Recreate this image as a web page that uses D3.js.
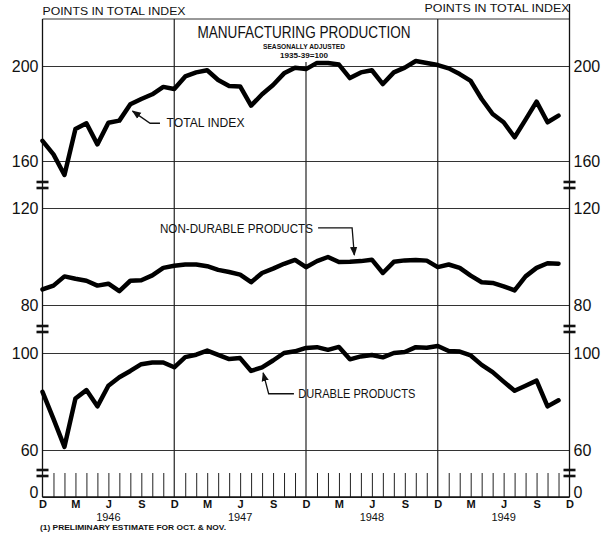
<!DOCTYPE html>
<html><head><meta charset="utf-8">
<script src="https://cdn.jsdelivr.net/npm/d3@7"></script>
<style>
body{margin:0;background:#fff}
text{font-family:"Liberation Sans",Arial,sans-serif;fill:#111}
</style>
</head><body><svg id="c" width="609" height="533"></svg>
<script>
// Monthly values, Dec 1945 .. Nov 1949 (1935-39 = 100)
const totalIndex = [168.5,162.8,154.1,173.5,175.9,167.0,176.1,177.0,183.9,186.1,188.1,191.2,
  190.3,195.6,197.3,198.2,194.1,191.6,191.4,183.3,188.1,192.0,196.9,199.3,
  198.7,201.3,201.3,200.6,194.9,197.3,198.2,192.4,197.3,199.3,202.1,201.3,
  200.4,199.0,196.6,193.7,186.1,179.8,176.3,170.0,177.4,185.0,176.3,179.1];
const nonDurable = [86.4,88.0,91.8,90.8,90.0,88.0,88.8,85.7,90.0,90.2,92.2,95.3,
  96.2,96.7,96.7,96.0,94.5,93.6,92.5,89.4,93.2,95.0,97.0,98.6,
  95.6,98.1,99.8,97.7,97.8,98.1,98.7,93.2,97.8,98.4,98.6,98.3,
  95.6,96.7,95.3,92.1,89.4,89.1,87.7,86.0,91.8,95.3,97.2,97.0];
const durable = [84.0,72.8,61.3,81.2,84.7,78.0,86.5,90.0,92.6,95.4,96.1,96.1,
  94.1,98.3,99.3,101.0,99.2,97.5,97.9,92.6,94.1,96.9,100.0,100.7,
  102.1,102.4,101.3,102.5,97.4,98.6,99.2,98.2,100.0,100.4,102.4,102.2,
  102.9,100.8,100.6,99.0,95.1,92.1,88.2,84.4,86.5,88.6,78.0,80.5];
const monthLetters = ["D","M","J","S"];   // Dec, Mar, Jun, Sep
const years = ["1946","1947","1948","1949"];
const topTicks = [160,200], midTicks = [80,120], botTicks = [60,100], zeroTicks = [0];

const svg = d3.select("#c");
svg.append("rect").attr("width",609).attr("height",533).attr("fill","#fff");
const L = 42.5, R = 569.5, TOP = 19, BASE = 497;
const x = d3.scaleLinear().domain([0,48]).range([L,R]);
const yTop = d3.scaleLinear().domain([160,200]).range([161,66]);
const yMid = d3.scaleLinear().domain([80,120]).range([305,208]);
const yBot = d3.scaleLinear().domain([60,100]).range([450,353]);
const yZero = d3.scaleLinear().domain([0,10]).range([BASE,473]);
const ink = "#111";

// gridlines + left labels, right labels
function panelAxes(scale, ticks) {
  const gl = svg.append("g").attr("transform",`translate(${L},0)`)
    .call(d3.axisLeft(scale).tickValues(ticks).tickSize(-(R-L)).tickPadding(4).tickFormat(d3.format("d")));
  gl.select(".domain").remove();
  gl.selectAll("line").attr("stroke","#333").attr("stroke-width",1);
  gl.selectAll("text").attr("font-size",16).attr("fill",ink);
  const gr = svg.append("g").attr("transform",`translate(${R},0)`)
    .call(d3.axisRight(scale).tickValues(ticks).tickSize(0).tickPadding(4).tickFormat(d3.format("d")));
  gr.select(".domain").remove();
  gr.selectAll("text").attr("font-size",16).attr("fill",ink);
  return [gl, gr];
}
panelAxes(yTop, topTicks);
panelAxes(yMid, midTicks);
panelAxes(yBot, botTicks);
const zz = panelAxes(yZero, zeroTicks);
zz.forEach(g => g.selectAll("text").attr("y",-5));

// frame
svg.append("line").attr("x1",L).attr("x2",R).attr("y1",TOP).attr("y2",TOP).attr("stroke","#333");
svg.append("line").attr("x1",L).attr("x2",L).attr("y1",TOP).attr("y2",BASE).attr("stroke",ink).attr("stroke-width",1.3);
svg.append("line").attr("x1",R).attr("x2",R).attr("y1",4).attr("y2",BASE).attr("stroke",ink).attr("stroke-width",1.3);

// December year dividers
[12,24,36].forEach(i => {
  svg.append("line").attr("x1",x(i)).attr("x2",x(i))
    .attr("y1", i===24 ? 62 : TOP).attr("y2",BASE).attr("stroke","#222").attr("stroke-width",1.2);
});

// month ticks on the zero strip
const monthIdx = d3.range(1,48).filter(i => i % 12 !== 0);
const gt = svg.append("g").attr("transform",`translate(0,${BASE})`)
  .call(d3.axisTop(x).tickValues(monthIdx).tickSize(BASE-473).tickFormat(""));
gt.select(".domain").remove();
gt.selectAll("line").attr("stroke","#222").attr("stroke-width",1);
svg.append("line").attr("x1",L).attr("x2",R).attr("y1",BASE).attr("y2",BASE).attr("stroke",ink).attr("stroke-width",1.3);

// month letters
const qIdx = d3.range(0,49,3);
const gm = svg.append("g").attr("transform",`translate(0,${BASE})`)
  .call(d3.axisBottom(x).tickValues(qIdx).tickSize(0).tickPadding(3).tickFormat(i => monthLetters[(i/3)%4]));
gm.select(".domain").remove();
gm.selectAll("text").attr("font-size",11).attr("font-weight","bold").attr("fill",ink);
// years under J
svg.append("g").selectAll("text").data(years).join("text")
  .attr("x",(d,k)=>x(6+12*k)).attr("y",521).attr("text-anchor","middle")
  .attr("font-size",11).attr("fill",ink).text(d=>d);

// break marks
[185,329,473].forEach(yb => {
  [L, R].forEach(xb => {
    [-3,3].forEach(off => {
      svg.append("rect").attr("x",xb-6).attr("y",yb+off-1.3).attr("width",12).attr("height",2.6).attr("fill",ink);
    });
  });
});

// series lines
const series = [[totalIndex,yTop],[nonDurable,yMid],[durable,yBot]];
series.forEach(([vals,ys]) => {
  svg.append("path").datum(vals)
    .attr("d", d3.line().x((d,i)=>x(i)).y(d=>ys(d)))
    .attr("fill","none").attr("stroke","#000").attr("stroke-width",4.5)
    .attr("stroke-linejoin","round").attr("stroke-linecap","round");
});

// annotations with arrows
const defs = svg.append("defs");
defs.append("marker").attr("id","ah").attr("viewBox","0 0 10 10").attr("refX",9).attr("refY",5)
  .attr("markerWidth",7).attr("markerHeight",7).attr("orient","auto")
  .append("path").attr("d","M0,1 L10,5 L0,9 Z").attr("fill",ink);
function leader(pts){
  svg.append("path").attr("d", d3.line()(pts)).attr("fill","none")
    .attr("stroke",ink).attr("stroke-width",1.3).attr("marker-end","url(#ah)");
}
// TOTAL INDEX
leader([[x(10.7),yTop(175.9)],[x(9.8),yTop(175.9)],[x(8.2),yTop(181)]]);
svg.append("text").attr("x",x(11.3)).attr("y",yTop(174.3)).attr("font-size",12)
  .attr("textLength",78).attr("lengthAdjust","spacingAndGlyphs").text("TOTAL INDEX");
// NON-DURABLE PRODUCTS
leader([[x(25.1),yMid(111.8)],[x(28.2),yMid(111.8)],[x(28.4),yMid(100.6)]]);
svg.append("text").attr("x",x(10.7)).attr("y",yMid(109.8)).attr("font-size",12)
  .attr("textLength",153).attr("lengthAdjust","spacingAndGlyphs").text("NON-DURABLE PRODUCTS");
// DURABLE PRODUCTS
leader([[x(22.9),yBot(83.2)],[x(20.6),yBot(83.2)],[x(20.1),yBot(91.8)]]);
svg.append("text").attr("x",x(23.3)).attr("y",yBot(81.6)).attr("font-size",12)
  .attr("textLength",117).attr("lengthAdjust","spacingAndGlyphs").text("DURABLE PRODUCTS");

// headers & title
svg.append("text").attr("x",L).attr("y",15).attr("font-size",11)
  .attr("textLength",143).attr("lengthAdjust","spacingAndGlyphs").text("POINTS IN TOTAL INDEX");
svg.append("text").attr("x",R).attr("y",12).attr("font-size",11).attr("text-anchor","end")
  .attr("textLength",145).attr("lengthAdjust","spacingAndGlyphs").text("POINTS IN TOTAL INDEX");
svg.append("text").attr("x",304).attr("y",38).attr("font-size",17).attr("text-anchor","middle")
  .attr("textLength",213).attr("lengthAdjust","spacingAndGlyphs").text("MANUFACTURING PRODUCTION");
svg.append("text").attr("x",304).attr("y",49).attr("font-size",6.5).attr("font-weight","bold").attr("text-anchor","middle")
  .attr("textLength",82).attr("lengthAdjust","spacingAndGlyphs").text("SEASONALLY ADJUSTED");
svg.append("text").attr("x",304).attr("y",58).attr("font-size",6.5).attr("font-weight","bold").attr("text-anchor","middle")
  .attr("textLength",48).attr("lengthAdjust","spacingAndGlyphs").text("1935-39=100");
// footnote
svg.append("text").attr("x",40).attr("y",530).attr("font-size",7.5).attr("font-weight","bold")
  .attr("textLength",186).attr("lengthAdjust","spacingAndGlyphs").text("(1) PRELIMINARY ESTIMATE FOR OCT. & NOV.");
</script>
</body></html>
